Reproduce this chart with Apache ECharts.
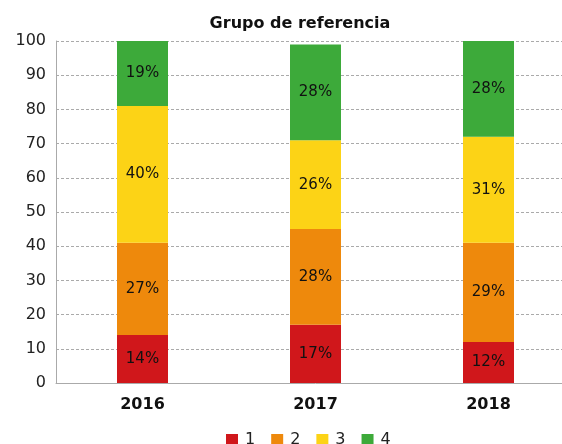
<!DOCTYPE html>
<html><head><meta charset="utf-8">
<script src="https://cdn.jsdelivr.net/npm/echarts@6/dist/echarts.min.js"></script>
<style>html,body{margin:0;padding:0;background:#fff;overflow:hidden}#c{width:580px;height:444px}</style>
</head><body><div id="c"></div>
<script>
const categories = ['2016', '2017', '2018'];
const seriesNames = ['1', '2', '3', '4'];
const s1 = [14, 17, 12];
const s2 = [27, 28, 29];
const s3 = [40, 26, 31];
const s4 = [19, 28, 28];
const yTicks = [0, 10, 20, 30, 40, 50, 60, 70, 80, 90, 100];
const colors = ['#D0171B', '#EE890C', '#FCD316', '#3DAA3A'];
const values = [s1, s2, s3, s4];

const chart = echarts.init(document.getElementById('c'));
chart.setOption({
  animation: false,
  title: {text: 'Grupo de referencia', left: 295, top: 11, textAlign: 'center',
    textStyle: {fontFamily: 'DejaVu Sans', fontSize: 16, fontWeight: 'bold', color: '#111'}},
  legend: {top: 427, left: 221, itemWidth: 12, itemHeight: 12, itemGap: 16,
    icon: 'rect', textStyle: {fontFamily: 'DejaVu Sans', fontSize: 16, color: '#222', padding: [0,0,0,2]},
    data: seriesNames},
  grid: {left: 56, top: 41, width: 519, height: 342},
  xAxis: {type: 'category', data: categories,
    axisLine: {lineStyle: {color: '#aaa'}},
    axisTick: {alignWithLabel: true, length: 4, lineStyle: {color: '#aaa'}},
    axisLabel: {fontFamily: 'DejaVu Sans', fontSize: 16, fontWeight: 'bold', color: '#111', margin: 14}},
  yAxis: {type: 'value', min: 0, max: 100, interval: 10,
    axisLine: {show: true, lineStyle: {color: '#aaa'}},
    axisTick: {show: false},
    axisLabel: {fontFamily: 'DejaVu Sans', fontSize: 16, color: '#222', margin: 10,
      formatter: v => yTicks.includes(v) ? String(v) : ''},
    splitLine: {lineStyle: {color: '#aaa', type: [3, 2]}}},
  series: values.map((arr, i) => ({
    name: seriesNames[i], type: 'bar', stack: 'a', barWidth: 51,
    itemStyle: {color: colors[i]},
    label: {show: true, position: 'inside', formatter: p => p.value + '%',
      fontFamily: 'DejaVu Sans', fontSize: 15, color: '#111'},
    data: arr
  }))
});
</script></body></html>
